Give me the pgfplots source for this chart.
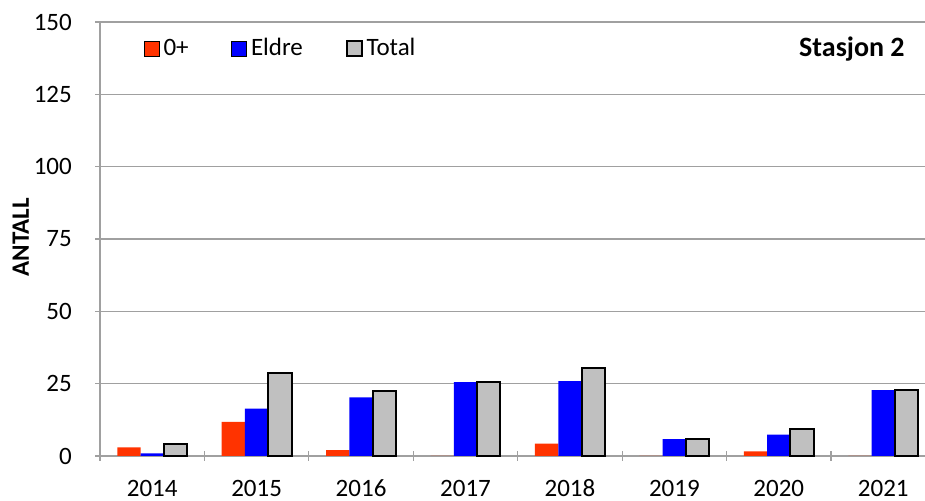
\documentclass[border=0pt]{standalone}
\usepackage{pgfplots}
\pgfplotsset{compat=1.18}
\usepackage{fontspec}
\setmainfont{Carlito}
\definecolor{cOrange}{RGB}{255,51,0}
\definecolor{cBlue}{RGB}{0,0,255}
\definecolor{cGray}{RGB}{192,192,192}
\definecolor{cGrid}{RGB}{160,160,160}
\begin{document}
\fontsize{12.5}{15}\selectfont
\begin{tikzpicture}
\begin{axis}[
  name=ax,
  scale only axis,
  width=412.5pt, height=217pt,
  ybar=0pt, bar width=11.65pt,
  xmin=-0.5, xmax=7.4,
  ymin=0, ymax=150,
  ytick={0,25,...,150},
  xtick={-0.5,0.5,...,6.5},
  xticklabels={},
  extra x ticks={0,...,7},
  extra x tick labels={2014,2015,2016,2017,2018,2019,2020,2021},
  extra x tick style={major tick length=0pt, xticklabel style={anchor=base, yshift=-20.3pt}},
  tick align=outside,
  major tick length=4.5pt,
  axis x line=bottom, axis y line=left,
  axis line style={-, draw=cGrid, line width=0.6pt},
  tick style={draw=cGrid, line width=0.6pt},
  ymajorgrids, grid style={draw=cGrid, line width=0.6pt},
  /pgf/number format/assume math mode=true,
  tick label style={font=\fontsize{12.5}{15}\selectfont},
  yticklabel style={xshift=-7.5pt},
  every axis y label/.style={at={(rel axis cs:0,0.504)}, xshift=-39.6pt, rotate=90, anchor=center, font=\bfseries\fontsize{12.5}{15}\selectfont},
  ylabel={ANTALL},
  legend columns=-1,
  legend style={at={(rel axis cs:0.0525,0.9378)}, anchor=west, draw=none, fill=none, inner sep=0pt, font=\fontsize{12.5}{15}\selectfont,
    /tikz/every even column/.append style={column sep=19.3pt}},
  legend image code/.code={\draw[#1] (0pt,-3.75pt) rectangle (7.5pt,3.75pt);},
  clip=false,
]
\addplot[fill=cOrange, draw=none] coordinates {(0,3.0) (1,11.8) (2,2.0) (3,0) (4,4.3) (5,0) (6,1.6) (7,0)};
\addplot[fill=cBlue, draw=none] coordinates {(0,0.9) (1,16.4) (2,20.3) (3,25.5) (4,25.9) (5,5.8) (6,7.4) (7,22.8)};
\addplot[fill=cGray, draw=black, line width=1pt] coordinates {(0,4.1) (1,28.7) (2,22.6) (3,25.6) (4,30.5) (5,6.0) (6,9.3) (7,22.9)};
\legend{0+,Eldre,Total}
\node[anchor=east, inner sep=0pt, font=\bfseries\fontsize{14}{16.8}\selectfont] at (rel axis cs:0.9758,0.9378) {Stasjon 2};
\end{axis}
\pgfresetboundingbox
\useasboundingbox ([xshift=-50pt,yshift=-22pt]ax.south west) rectangle ([yshift=11pt]ax.north east);
\end{tikzpicture}
\end{document}
